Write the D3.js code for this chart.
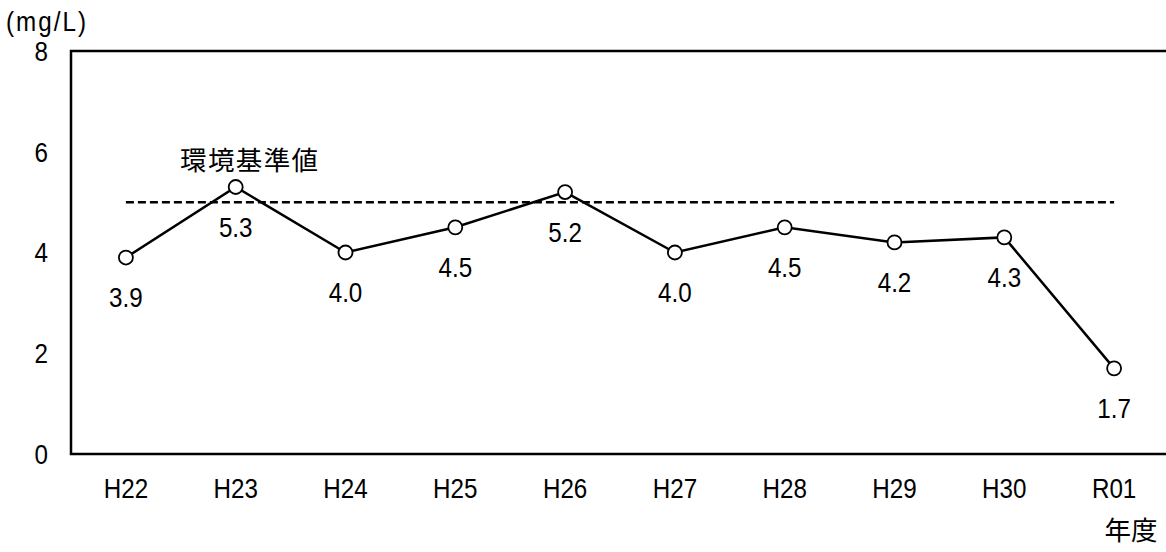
<!DOCTYPE html>
<html>
<head>
<meta charset="utf-8">
<script src="https://cdn.jsdelivr.net/npm/d3@7"></script>
<style>
  body { margin: 0; background: #fff; }
  text { font-family: "Liberation Sans", Arial, sans-serif; fill: #000; }
  .jp { font-family: "Noto Sans CJK JP", sans-serif; }
</style>
</head>
<body>
<script>
const years = ["H22", "H23", "H24", "H25", "H26", "H27", "H28", "H29", "H30", "R01"];
const values = [3.9, 5.3, 4.0, 4.5, 5.2, 4.0, 4.5, 4.2, 4.3, 1.7];
const yTicks = [0, 2, 4, 6, 8];
const standard = 5;

const width = 1166, height = 552;
const plotLeft = 71, plotTop = 51, plotBottom = 454, plotRight = 1169;
const fs = 27.5, fsJp = 26.5, sx = 0.88;

const svg = d3.select("body").append("svg")
  .attr("width", width)
  .attr("height", height);

const x = d3.scaleBand().domain(years).range([plotLeft, plotRight]).padding(0);
const y = d3.scaleLinear().domain([0, 8]).range([plotBottom, plotTop]);
const cx = d => x(d) + x.bandwidth() / 2;
// condensed text placement, like the source image
const at = (px, py) => `translate(${px},${py}) scale(${sx},1)`;

// frame: left, bottom, top
svg.append("path")
  .attr("d", `M${width},${plotTop}H${plotLeft}V${plotBottom}H${width}`)
  .attr("fill", "none")
  .attr("stroke", "#000")
  .attr("stroke-width", 2.5);

// y labels
svg.selectAll(".ylab").data(yTicks).join("text")
  .attr("class", "ylab")
  .attr("transform", d => at(48, y(d)))
  .attr("dy", "0.36em")
  .attr("text-anchor", "end")
  .attr("font-size", fs)
  .text(d => d);

// x labels
svg.selectAll(".xlab").data(years).join("text")
  .attr("class", "xlab")
  .attr("transform", d => at(cx(d), 488))
  .attr("dy", "0.36em")
  .attr("text-anchor", "middle")
  .attr("font-size", fs)
  .text(d => d);

svg.append("text")
  .attr("transform", at(6, 21))
  .attr("dy", "0.36em")
  .attr("font-size", fs)
  .attr("textLength", 80 / sx)
  .text("(mg/L)");

svg.append("text")
  .attr("class", "jp")
  .attr("x", 1131).attr("y", 530).attr("dy", "0.36em")
  .attr("text-anchor", "middle")
  .attr("font-size", fsJp)
  .text("年度");

// standard line
svg.append("line")
  .attr("x1", cx(years[0])).attr("x2", cx(years[years.length - 1]))
  .attr("y1", y(standard)).attr("y2", y(standard))
  .attr("stroke", "#000")
  .attr("stroke-width", 2.5)
  .attr("stroke-dasharray", "8,4");

svg.append("text")
  .attr("class", "jp")
  .attr("x", 180).attr("y", 160).attr("dy", "0.36em")
  .attr("font-size", fsJp)
  .attr("textLength", 138)
  .text("環境基準値");

// series
const line = d3.line().x((d, i) => cx(years[i])).y(d => y(d));
svg.append("path")
  .datum(values)
  .attr("d", line)
  .attr("fill", "none")
  .attr("stroke", "#000")
  .attr("stroke-width", 2.5);

svg.selectAll(".pt").data(values).join("circle")
  .attr("class", "pt")
  .attr("cx", (d, i) => cx(years[i]))
  .attr("cy", d => y(d))
  .attr("r", 7)
  .attr("fill", "#fff")
  .attr("stroke", "#000")
  .attr("stroke-width", 1.8);

svg.selectAll(".val").data(values).join("text")
  .attr("class", "val")
  .attr("transform", (d, i) => at(cx(years[i]), y(d) + 40))
  .attr("dy", "0.36em")
  .attr("text-anchor", "middle")
  .attr("font-size", fs)
  .text(d => d.toFixed(1));
</script>
</body>
</html>
